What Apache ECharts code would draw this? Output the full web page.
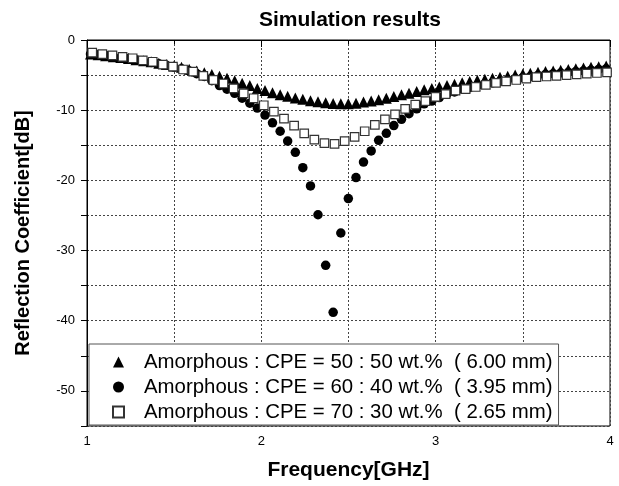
<!DOCTYPE html>
<html>
<head>
<meta charset="utf-8">
<script src="https://cdn.jsdelivr.net/npm/echarts@6/dist/echarts.min.js"></script>
<style>
  html, body { margin: 0; padding: 0; background: #fff; }
  #chart { width: 619px; height: 486px; }
</style>
</head>
<body>
<div id="chart"></div>
<script>
// frequency grid shared by the 6.00 mm and 3.95 mm samples [GHz]
var freqA = [1.020, 1.064, 1.107, 1.151, 1.194, 1.238, 1.281, 1.325, 1.368, 1.412,
             1.455, 1.499, 1.542, 1.586, 1.629, 1.673, 1.716, 1.760, 1.803, 1.847,
             1.890, 1.934, 1.977, 2.021, 2.064, 2.108, 2.151, 2.195, 2.238, 2.282,
             2.325, 2.369, 2.412, 2.456, 2.499, 2.543, 2.586, 2.630, 2.673, 2.717,
             2.760, 2.804, 2.847, 2.891, 2.934, 2.978, 3.021, 3.065, 3.108, 3.152,
             3.195, 3.239, 3.282, 3.326, 3.369, 3.413, 3.456, 3.500, 3.543, 3.587,
             3.630, 3.674, 3.717, 3.761, 3.804, 3.848, 3.891, 3.935, 3.978];
// frequency grid of the 2.65 mm sample [GHz]
var freqB = [1.030, 1.088, 1.146, 1.204, 1.262, 1.320, 1.377, 1.435, 1.493, 1.551,
             1.609, 1.667, 1.725, 1.783, 1.841, 1.899, 1.956, 2.014, 2.072, 2.130,
             2.188, 2.246, 2.304, 2.362, 2.420, 2.478, 2.535, 2.593, 2.651, 2.709,
             2.767, 2.825, 2.883, 2.941, 2.999, 3.057, 3.114, 3.172, 3.230, 3.288,
             3.346, 3.404, 3.462, 3.520, 3.578, 3.636, 3.693, 3.751, 3.809, 3.867,
             3.925, 3.983];

// 50 : 50 wt.% (6.00 mm)
var rl50 = [-2.0, -2.1, -2.25, -2.4, -2.5, -2.65, -2.8, -2.95, -3.1, -3.3,
            -3.5, -3.7, -3.9, -4.15, -4.4, -4.65, -4.9, -5.15, -5.45, -5.8,
            -6.15, -6.5, -6.9, -7.2, -7.5, -7.8, -8.0, -8.25, -8.45, -8.65,
            -8.8, -8.95, -9.05, -9.1, -9.1, -9.0, -8.85, -8.7, -8.5, -8.3,
            -8.05, -7.8, -7.6, -7.35, -7.1, -6.9, -6.7, -6.5, -6.3, -6.1,
            -5.9, -5.75, -5.6, -5.45, -5.3, -5.15, -5.0, -4.85, -4.75, -4.6,
            -4.5, -4.4, -4.3, -4.2, -4.1, -4.0, -3.9, -3.8, -3.7];
// 60 : 40 wt.% (3.95 mm)
var rl60 = [-2.0, -2.1, -2.2, -2.35, -2.5, -2.65, -2.8, -3.0, -3.2, -3.4,
            -3.6, -3.85, -4.1, -4.4, -4.8, -5.2, -5.8, -6.5, -7.0, -7.6,
            -8.3, -9.0, -9.7, -10.7, -11.8, -13.0, -14.4, -16.0, -18.2, -20.8,
            -24.9, -32.1, -38.8, -27.5, -22.6, -19.6, -17.4, -15.8, -14.3, -13.3,
            -12.2, -11.3, -10.5, -9.8, -9.1, -8.7, -8.2, -7.7, -7.4, -7.0,
            -6.8, -6.5, -6.3, -6.1, -5.9, -5.7, -5.5, -5.35, -5.2, -5.05,
            -4.9, -4.8, -4.7, -4.6, -4.5, -4.4, -4.3, -4.2, -4.1];
// 70 : 30 wt.% (2.65 mm)
var rl70 = [-1.8, -2.0, -2.2, -2.4, -2.6, -2.9, -3.1, -3.5, -3.8, -4.2,
            -4.5, -5.1, -5.7, -6.2, -6.9, -7.6, -8.3, -9.3, -10.2, -11.2,
            -12.2, -13.3, -14.2, -14.7, -14.8, -14.4, -13.8, -13.0, -12.1, -11.3,
            -10.6, -9.8, -9.2, -8.7, -8.1, -7.7, -7.2, -7.0, -6.7, -6.4,
            -6.1, -5.9, -5.7, -5.5, -5.3, -5.2, -5.1, -5.0, -4.9, -4.8,
            -4.7, -4.6];

var seriesNames = [
  'Amorphous : CPE = 50 : 50 wt.%  ( 6.00 mm)',
  'Amorphous : CPE = 60 : 40 wt.%  ( 3.95 mm)',
  'Amorphous : CPE = 70 : 30 wt.%  ( 2.65 mm)'
];

function pairs(xs, ys) {
  return xs.map(function (x, i) { return [x, ys[i]]; });
}

var font = 'Liberation Sans, Arial, sans-serif';
var gridLine = { show: true, lineStyle: { color: '#444', width: 1, type: [2, 2] } };

var chart = echarts.init(document.getElementById('chart'));
chart.setOption({
  animation: false,
  backgroundColor: '#fff',
  title: {
    text: 'Simulation results',
    left: 254,
    top: 5,
    textStyle: { fontFamily: font, fontSize: 21, fontWeight: 'bold', color: '#000' }
  },
  grid: {
    left: 87, right: 9, top: 40, bottom: 60,
    show: true, borderColor: '#000', borderWidth: 1
  },
  legend: {
    orient: 'vertical',
    left: 89,
    top: 344,
    itemWidth: 11,
    itemHeight: 11,
    itemGap: 5,
    padding: [8, 6, 3, 23],
    backgroundColor: '#fff',
    borderColor: '#555',
    borderWidth: 1,
    borderRadius: 0,
    textStyle: { fontFamily: font, fontSize: 20.4, color: '#000', padding: [0, 0, 0, 15] },
    data: seriesNames
  },
  xAxis: {
    type: 'value',
    min: 1, max: 4, interval: 1,
    name: 'Frequency[GHz]',
    nameLocation: 'middle',
    nameGap: 34,
    nameTextStyle: { fontFamily: font, fontSize: 21, fontWeight: 'bold', color: '#000' },
    axisLine: { lineStyle: { color: '#000', width: 1 } },
    axisTick: { inside: false, length: 7, lineStyle: { color: '#000' } },
    minorTick: { show: true, splitNumber: 2, length: 4, lineStyle: { color: '#000' } },
    axisLabel: { fontFamily: font, fontSize: 13, color: '#000', margin: 9 },
    splitLine: gridLine,
    minorSplitLine: gridLine
  },
  yAxis: {
    type: 'value',
    min: -55, max: 0, interval: 5,
    name: 'Reflection Coefficient[dB]',
    nameLocation: 'middle',
    nameGap: 54,
    nameTextStyle: { fontFamily: font, fontSize: 20, fontWeight: 'bold', color: '#000' },
    axisLine: { lineStyle: { color: '#000', width: 1 } },
    axisTick: { inside: false, length: 6, lineStyle: { color: '#000' } },
    axisLabel: {
      fontFamily: font, fontSize: 13, color: '#000', margin: 12,
      formatter: function (v) { return v % 10 === 0 ? String(v) : ''; }
    },
    splitLine: gridLine
  },
  series: [
    {
      name: seriesNames[0], type: 'scatter', symbol: 'triangle', symbolSize: 11,
      itemStyle: { color: '#000', opacity: 1 },
      data: pairs(freqA, rl50)
    },
    {
      name: seriesNames[1], type: 'scatter', symbol: 'circle', symbolSize: 9.5,
      itemStyle: { color: '#000', opacity: 1 },
      data: pairs(freqA, rl60)
    },
    {
      name: seriesNames[2], type: 'scatter', symbol: 'rect', symbolSize: 8.5,
      itemStyle: { color: '#fff', borderColor: '#333', borderWidth: 1.2, opacity: 1 },
      data: pairs(freqB, rl70)
    }
  ]
});
</script>
</body>
</html>
